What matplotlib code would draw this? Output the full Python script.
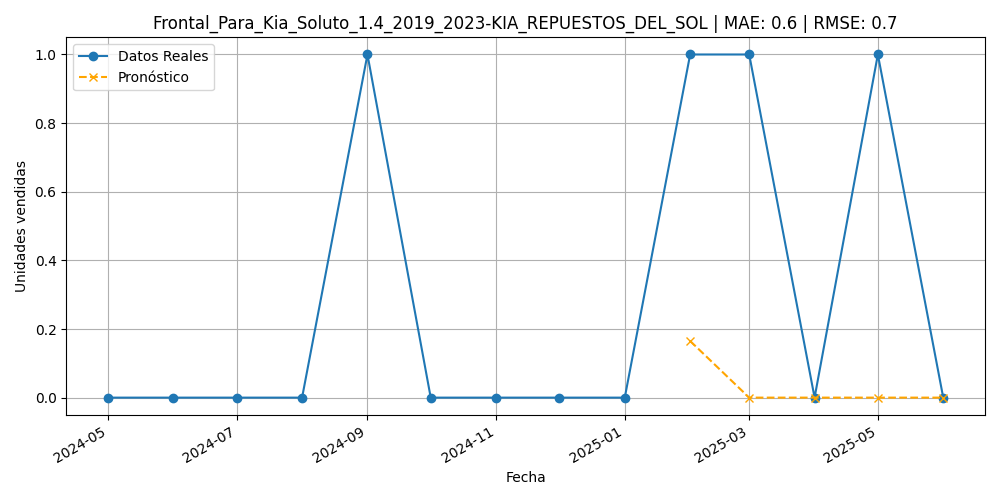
import matplotlib
matplotlib.use("Agg")
import matplotlib.pyplot as plt
import matplotlib.dates as mdates
import pandas as pd

fechas_reales = pd.date_range("2024-05-01", "2025-06-01", freq="MS")
valores_reales = [0, 0, 0, 0, 1, 0, 0, 0, 0, 1, 1, 0, 1, 0]

fechas_pron = pd.date_range("2025-02-01", "2025-06-01", freq="MS")
valores_pron = [0.165, 0.0, 0.0, 0.0, 0.0]

titulo = "Frontal_Para_Kia_Soluto_1.4_2019_2023-KIA_REPUESTOS_DEL_SOL | MAE: 0.6 | RMSE: 0.7"

fig, ax = plt.subplots(figsize=(10, 5), dpi=100)
ax.plot(fechas_reales, valores_reales, marker="o", label="Datos Reales")
ax.plot(fechas_pron, valores_pron, marker="x", linestyle="--", color="orange", label="Pronóstico")
ax.set_title(titulo)
ax.set_xlabel("Fecha")
ax.set_ylabel("Unidades vendidas")
ax.xaxis.set_major_locator(mdates.MonthLocator(bymonth=[1, 3, 5, 7, 9, 11]))
ax.xaxis.set_major_formatter(mdates.DateFormatter("%Y-%m"))
ax.grid(True)
ax.legend(loc="upper left")
fig.autofmt_xdate()
fig.tight_layout()
fig.savefig("out.png")
